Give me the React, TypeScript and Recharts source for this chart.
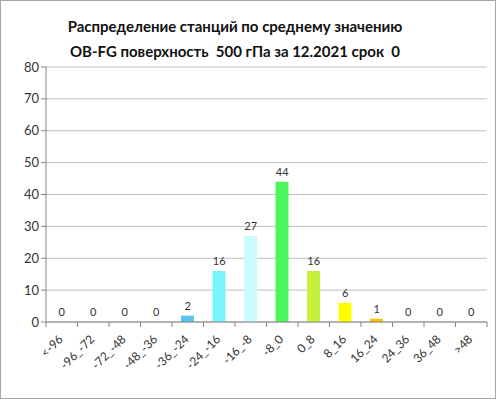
import { ComposedChart, Bar, Line, XAxis, YAxis, CartesianGrid, Cell, LabelList } from 'recharts';

const categories = ['<-96', '-96_-72', '-72_-48', '-48_-36', '-36_-24', '-24_-16', '-16_-8', '-8_0', '0_8', '8_16', '16_24', '24_36', '36_48', '>48'];
const counts = [0, 0, 0, 0, 2, 16, 27, 44, 16, 6, 1, 0, 0, 0];
const barColors = ['#5b9bd5', '#5b9bd5', '#5b9bd5', '#5b9bd5', '#5bc3f0', '#77f5fa', '#ccfbfd', '#4cf55c', '#c5f03c', '#ffff00', '#ffc000', '#ffc000', '#ffc000', '#ffc000'];
const yTicks = [0, 10, 20, 30, 40, 50, 60, 70, 80];
const titleLines = ['Распределение станций по среднему значению', 'OB-FG поверхность  500 гПа за 12.2021 срок  0'];

const data = categories.map((name, i) => ({ name, value: counts[i] }));

const FONT = 'Lato, "Open Sans", sans-serif';

function CategoryTick(props: any) {
  const { x, y, payload, index } = props;
  const half = payload?.offset ?? 15.75;
  return (
    <g>
      <line x1={x - half} y1={y - 8} x2={x - half} y2={y - 3} stroke="#868686" />
      {index === categories.length - 1 && (
        <line x1={x + half} y1={y - 8} x2={x + half} y2={y - 3} stroke="#868686" />
      )}
      <text
        x={x + 2}
        y={y + 10}
        textAnchor="end"
        fontSize={12}
        fontFamily={FONT}
        fill="#333"
        transform={`rotate(-45 ${x + 2} ${y + 10})`}
      >
        {payload.value}
      </text>
    </g>
  );
}

export default function App() {
  return (
    <div
      style={{
        position: 'absolute',
        top: 0,
        left: 0,
        width: 496,
        height: 399,
        boxSizing: 'border-box',
        border: '1px solid #a6a6a6',
        background: '#fff',
      }}
    >
      <div
        style={{
          position: 'absolute',
          top: 13,
          left: 0,
          width: 468,
          textAlign: 'center',
          fontFamily: FONT,
          fontWeight: 'bold',
          fontSize: 15,
          lineHeight: '25px',
          color: '#111',
        }}
      >
        {titleLines.map((t) => (
          <div key={t} style={{ whiteSpace: 'pre' }}>{t}</div>
        ))}
      </div>
      <ComposedChart
        width={494}
        height={397}
        data={data}
        margin={{ top: 66, right: 8, left: 0, bottom: 0 }}
      >
        <CartesianGrid vertical={false} stroke="#bfbfbf" />
        <XAxis
          dataKey="name"
          interval={0}
          tickLine={false}
          axisLine={{ stroke: '#868686' }}
          tick={<CategoryTick />}
          height={76}
        />
        <YAxis
          width={45}
          domain={[0, 80]}
          ticks={yTicks}
          interval={0}
          axisLine={{ stroke: '#868686' }}
          tickLine={{ stroke: '#868686' }}
          tickSize={5}
          tick={{ fontSize: 13, fontFamily: FONT, fill: '#333' }}
        />
        <Bar dataKey="value" barSize={13} isAnimationActive={false}>
          {data.map((d, i) => (
            <Cell key={d.name} fill={barColors[i]} />
          ))}
        </Bar>
        <Line dataKey="value" stroke="none" dot={false} activeDot={false} isAnimationActive={false}>
          <LabelList dataKey="value" position="top" offset={6} fontSize={11} fontFamily={FONT} fill="#333" />
        </Line>
      </ComposedChart>
    </div>
  );
}
